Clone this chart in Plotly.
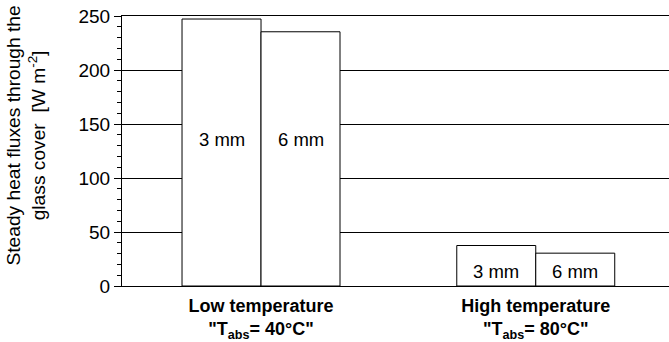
import plotly.graph_objects as go

categories = ["<b>Low temperature</b><br><b>\"T<sub>abs</sub>= 40°C\"</b>",
              "<b>High temperature</b><br><b>\"T<sub>abs</sub>= 80°C\"</b>"]
series_names = ["3 mm", "6 mm"]
values_3mm = [247.2, 37.5]
values_6mm = [235.4, 30.4]
label_y = [136, 13]
y_ticks = [0, 50, 100, 150, 200, 250]
y_title = "Steady heat fluxes through the<br>glass cover  [W m<sup>-2</sup>]"

FONT = "Liberation Sans, Arial, sans-serif"

fig = go.Figure()
for name, vals in zip(series_names, [values_3mm, values_6mm]):
    fig.add_trace(go.Bar(
        x=categories, y=vals, name=name,
        marker=dict(color="white", line=dict(color="black", width=1)),
        showlegend=False,
    ))

shifts = [-39.5, 39.5]
for cat, ly in zip(categories, label_y):
    for name, sh in zip(series_names, shifts):
        fig.add_annotation(x=cat, y=ly, text=name, showarrow=False,
                           xshift=sh, font=dict(size=18.5, color="black", family=FONT))

fig.add_annotation(x=-0.1746, y=0.559, xref="paper", yref="paper", text=y_title,
                   textangle=-90, showarrow=False, xanchor="center", yanchor="middle",
                   font=dict(size=19.2, color="black", family=FONT))

fig.update_layout(
    width=669, height=342,
    margin=dict(l=122, r=0, t=16, b=56),
    paper_bgcolor="white", plot_bgcolor="white",
    barmode="group", bargap=0.425, bargroupgap=0,
    font=dict(family=FONT, color="black", size=18),
)
fig.update_xaxes(
    range=[-0.506, 1.485], showline=True, linecolor="black", linewidth=1, mirror=True,
    ticks="", showgrid=False, tickfont=dict(size=18, family=FONT), ticklabelstandoff=3,
)
fig.update_yaxes(
    range=[0, 250], tickvals=y_ticks, showgrid=True, gridcolor="black", gridwidth=1,
    showline=True, linecolor="black", linewidth=1, ticks="outside", ticklen=7,
    tickcolor="black", zeroline=False,
    minor=dict(ticks="outside", ticklen=4, dtick=10, tickcolor="black", showgrid=False),
    tickfont=dict(size=19, family=FONT),
)

fig.write_html("out.html")
